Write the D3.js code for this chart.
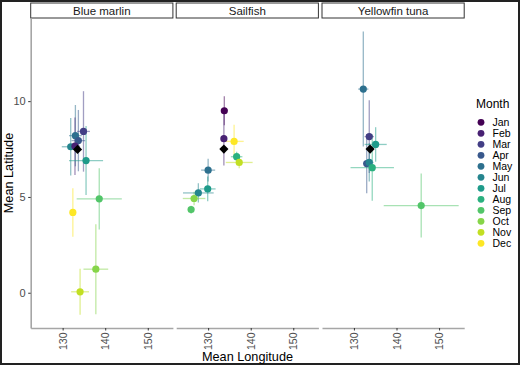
<!DOCTYPE html>
<html><head><meta charset="utf-8">
<script src="https://cdn.jsdelivr.net/npm/d3@7"></script>
<style>body{margin:0;background:#fff}svg{display:block;font-family:"Liberation Sans",Arial,sans-serif}</style>
</head><body><svg id="c" width="520" height="365"></svg>
<script>
const species = ["Blue marlin", "Sailfish", "Yellowfin tuna"];
const months = ["Jan","Feb","Mar","Apr","May","Jun","Jul","Aug","Sep","Oct","Nov","Dec"];
const xTicks = [130, 140, 150];
const yTicks = [0, 5, 10];

// Blue marlin
const bmMonth  = ["Jul","Sep","Oct","Nov","Dec","Jun","May","Apr","Feb","Mar"];
const bmLon    = [135.5, 138.6, 137.8, 134.1, 132.4, 131.9, 133.0, 133.7, 132.9, 134.9];
const bmLat    = [6.9, 4.9, 1.23, 0.05, 4.19, 7.62, 8.2, 7.94, 7.65, 8.42];
const bmLonErr = [4.0, 5.3, 2.9, 2.1, 0.3, 2.1, 1.5, 1.6, 1.2, 1.5];
const bmLatErr = [1.8, 1.6, 2.35, 1.2, 1.27, 1.5, 1.6, 1.6, 1.5, 2.1];
// Sailfish
const sfMonth  = ["Jan","Feb","May","Jun","Jul","Aug","Sep","Oct","Nov","Dec"];
const sfLon    = [133.8, 133.7, 130.0, 127.7, 129.9, 136.7, 126.0, 126.7, 137.3, 136.1];
const sfLat    = [9.5, 8.04, 6.4, 5.21, 5.42, 7.1, 4.34, 4.92, 6.8, 7.9];
const sfLonErr = [0.3, 0.3, 1.65, 3.6, 1.85, 1.35, 0.5, 2.65, 3.15, 2.25];
const sfLatErr = [0.76, 1.4, 0.6, 0.5, 0.65, 0.26, 0.2, 0.35, 0.3, 0.87];
// Yellowfin tuna
const yfMonth  = ["May","Mar","Jul","Apr","Jun","Aug","Sep"];
const yfLon    = [132.2, 133.6, 135.1, 133.0, 133.6, 134.3, 145.8];
const yfLat    = [10.63, 8.15, 7.74, 6.74, 6.8, 6.53, 4.55];
const yfLonErr = [1.2, 1.1, 2.6, 0.8, 1.0, 5.1, 8.8];
const yfLatErr = [3.0, 1.9, 0.9, 1.55, 1.0, 1.73, 1.67];
// overall means (black diamonds)
const meanLon = [133.5, 133.7, 133.8];
const meanLat = [7.48, 7.5, 7.5];

const groups = [
  {month: bmMonth, lon: bmLon, lat: bmLat, lonErr: bmLonErr, latErr: bmLatErr},
  {month: sfMonth, lon: sfLon, lat: sfLat, lonErr: sfLonErr, latErr: sfLatErr},
  {month: yfMonth, lon: yfLon, lat: yfLat, lonErr: yfLonErr, latErr: yfLatErr}
];

const svg = d3.select("#c");
const color = d3.scaleOrdinal().domain(months).range(months.map((m, i) => d3.interpolateViridis(i / 11)));

const panelLeft = [30.7, 176.2, 322.0];
const panelW = 142.2;
const plotTop = 18, plotBottom = 328;
const y = d3.scaleLinear().domain([-1.84, 14.34]).range([plotBottom, plotTop]);

// outer frame
svg.append("rect").attr("x", 1).attr("y", 1).attr("width", 518).attr("height", 363)
  .attr("fill", "none").attr("stroke", "#222").attr("stroke-width", 2);

species.forEach((sp, k) => {
  const L = panelLeft[k];
  const x = d3.scaleLinear().domain([122.5, 155.9]).range([L, L + panelW]);
  const g = svg.append("g");
  const d = groups[k];
  const rows = d.month.map((m, i) => ({m, lon: d.lon[i], lat: d.lat[i], le: d.lonErr[i], ae: d.latErr[i]}));

  // strip
  g.append("rect").attr("x", L).attr("y", 3).attr("width", panelW).attr("height", plotTop - 3)
    .attr("fill", "#fff").attr("stroke", "#333").attr("stroke-width", 1);
  g.append("text").attr("x", L + panelW / 2).attr("y", 14.5).attr("text-anchor", "middle")
    .attr("font-size", 11.5).attr("fill", "#1a1a1a").text(sp);

  // error bars
  const eb = g.append("g").attr("stroke-width", 1.3).attr("stroke-opacity", 0.5);
  eb.selectAll("line.v").data(rows).join("line").attr("class", "v")
    .attr("x1", r => x(r.lon)).attr("x2", r => x(r.lon))
    .attr("y1", r => y(r.lat - r.ae)).attr("y2", r => y(r.lat + r.ae))
    .attr("stroke", r => color(r.m));
  eb.selectAll("line.h").data(rows).join("line").attr("class", "h")
    .attr("y1", r => y(r.lat)).attr("y2", r => y(r.lat))
    .attr("x1", r => x(r.lon - r.le)).attr("x2", r => x(r.lon + r.le))
    .attr("stroke", r => color(r.m));

  // points
  g.append("g").selectAll("circle").data(rows).join("circle")
    .attr("cx", r => x(r.lon)).attr("cy", r => y(r.lat)).attr("r", 3.6)
    .attr("fill", r => color(r.m));

  // mean diamond
  g.append("path").attr("d", d3.symbol(d3.symbolSquare, 42)())
    .attr("transform", `translate(${x(meanLon[k])},${y(meanLat[k])}) rotate(45)`)
    .attr("fill", "#000");

  // x axis
  const xa = g.append("g").attr("transform", `translate(0,${plotBottom})`)
    .call(d3.axisBottom(x).tickValues(xTicks).tickSize(2.5).tickSizeOuter(0));
  xa.select(".domain").attr("stroke", "#a6a6a6").attr("stroke-width", 1.6);
  xa.selectAll(".tick line").attr("stroke", "#333");
  xa.selectAll(".tick text").attr("fill", "#4d4d4d").attr("font-size", 10.5)
    .attr("transform", "rotate(-90)").attr("text-anchor", "end")
    .attr("x", -4.5).attr("y", 0).attr("dy", "0.35em");

  if (k === 0) {
    const ya = g.append("g").attr("transform", `translate(${L},0)`)
      .call(d3.axisLeft(y).tickValues(yTicks).tickSize(2.5).tickSizeOuter(0));
    ya.select(".domain").attr("stroke", "#a6a6a6").attr("stroke-width", 1.6);
    ya.selectAll(".tick line").attr("stroke", "#333");
    ya.selectAll(".tick text").attr("fill", "#4d4d4d").attr("font-size", 11).attr("x", -5);
  }
});

// axis titles
svg.append("text").attr("x", 247.5).attr("y", 360.5).attr("text-anchor", "middle")
  .attr("font-size", 12.7).attr("fill", "#000").text("Mean Longitude");
svg.append("text").attr("transform", "translate(13,173) rotate(-90)").attr("text-anchor", "middle")
  .attr("font-size", 12.7).attr("fill", "#000").text("Mean Latitude");

// legend
const lg = svg.append("g");
lg.append("text").attr("x", 476).attr("y", 107.5).attr("font-size", 12).attr("fill", "#000").text("Month");
lg.selectAll("circle").data(months).join("circle")
  .attr("cx", 481).attr("cy", (m, i) => 122.3 + i * 11).attr("r", 3.4).attr("fill", m => color(m));
lg.selectAll("text.lab").data(months).join("text").attr("class", "lab")
  .attr("x", 492.5).attr("y", (m, i) => 122.3 + i * 11).attr("dy", "0.35em")
  .attr("font-size", 10.5).attr("fill", "#000").text(m => m);
</script></body></html>
